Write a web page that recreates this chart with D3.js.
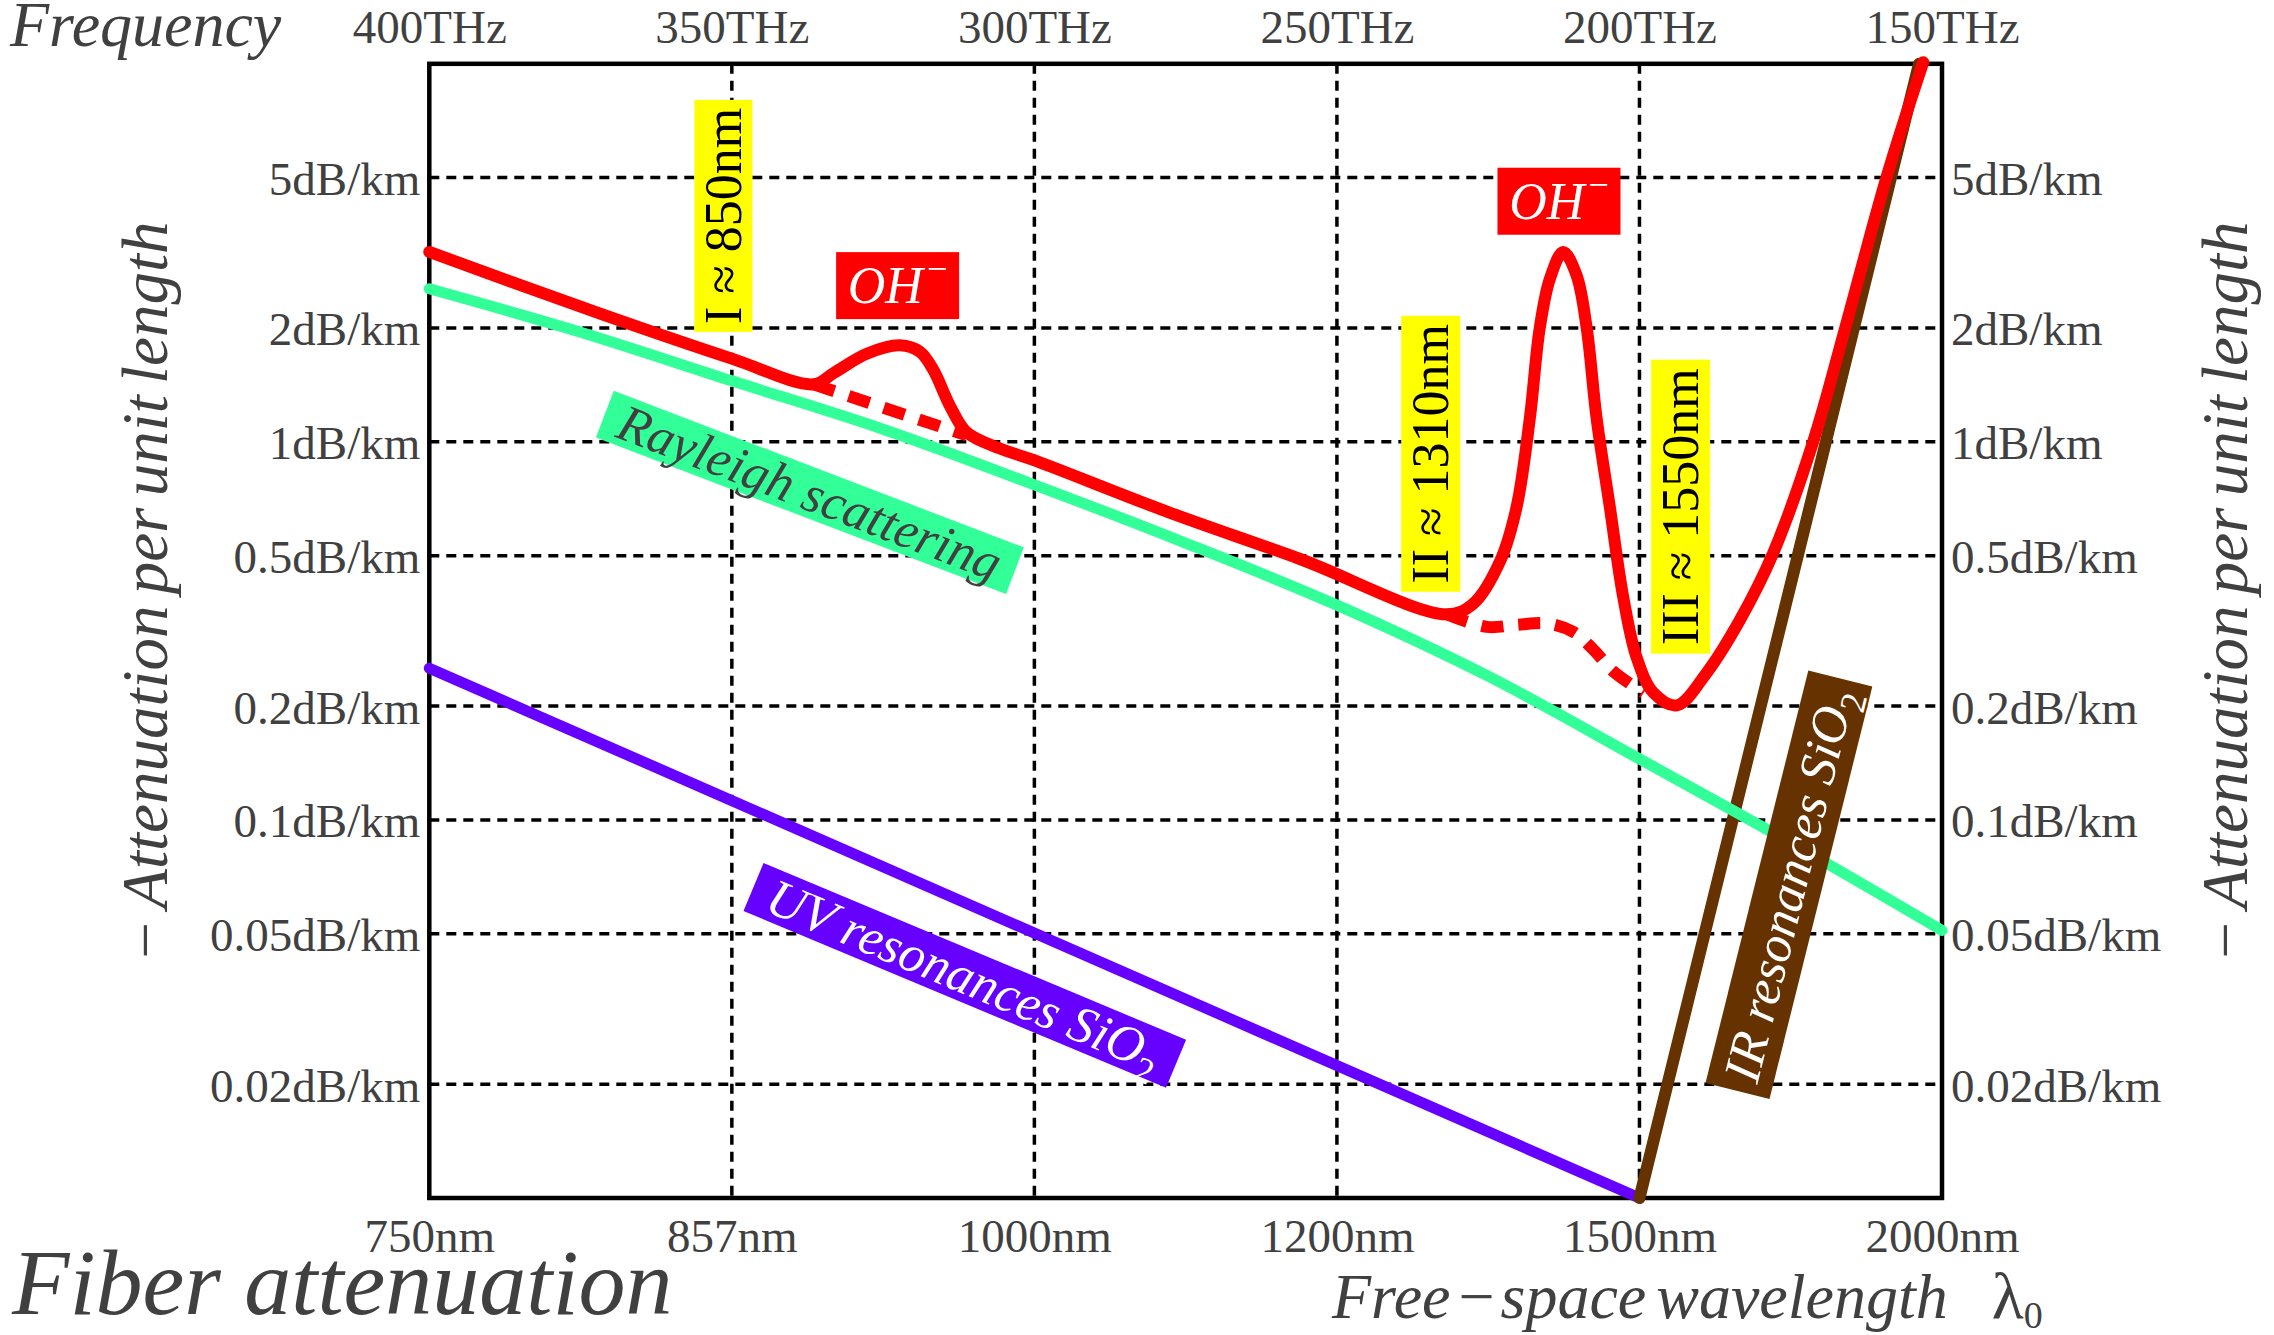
<!DOCTYPE html>
<html>
<head>
<meta charset="utf-8">
<script src="https://cdn.jsdelivr.net/npm/d3@7"></script>
<style>
  body { margin: 0; background: #fff; }
  text { font-family: "Liberation Serif", "Times New Roman", serif; fill: #404040; }
</style>
</head>
<body>
<script>
// Axis ticks (x axis is linear in frequency)
var freqTicks = [400, 350, 300, 250, 200, 150];
var freqLabels = ['400THz', '350THz', '300THz', '250THz', '200THz', '150THz'];
var wavelengthLabels = ['750nm', '857nm', '1000nm', '1200nm', '1500nm', '2000nm'];
var attenTicks = [5, 2, 1, 0.5, 0.2, 0.1, 0.05, 0.02];
var attenLabels = ['5dB/km', '2dB/km', '1dB/km', '0.5dB/km', '0.2dB/km',
  '0.1dB/km', '0.05dB/km', '0.02dB/km'];

// Curves: [frequency THz, attenuation dB/km]
var rayleigh = [[400, 2.54], [375, 1.95], [350, 1.45], [325, 1.08], [300, 0.77],
  [275, 0.54], [250, 0.37], [225, 0.24], [200, 0.145], [175, 0.087], [150, 0.051]];
var uvResonance = [[400, 0.252], [200, 0.01]];
var irResonance = [[200, 0.01], [153.8, 10]];
var totalLoss = [[400, 3.18], [372, 2.19], [350, 1.66], [336.5, 1.42],
  [333.2, 1.52], [327.7, 1.71], [322.2, 1.80], [318.9, 1.73], [316.7, 1.55],
  [313.9, 1.24], [311.2, 1.06], [305.7, 0.96], [300.2, 0.896], [278.1, 0.654],
  [256.1, 0.49], [231.9, 0.35], [227.5, 0.373], [223.0, 0.485], [220.3, 0.673],
  [218.1, 1.16], [216.5, 1.99], [214.8, 2.70], [212.6, 3.18], [210.4, 2.76],
  [208.7, 1.99], [207.1, 1.16], [204.9, 0.673], [202.7, 0.39], [200.5, 0.27],
  [197.7, 0.217], [193.8, 0.201], [188.9, 0.245], [183.4, 0.338], [177.9, 0.508],
  [171.3, 1.0], [166.0, 2.0], [159.1, 5.05], [153.1, 10.1]];
// loss without the OH- peaks (dashed)
var ohBaseline1 = [[336.5, 1.42], [311.2, 1.04]];
var ohBaseline2 = [[231.9, 0.35], [225.2, 0.324], [220.3, 0.328], [215.3, 0.331],
  [210.9, 0.314], [207.6, 0.282], [204.3, 0.247], [199.3, 0.217]];

var width = 2274,
  height = 1335;
// plot frame
var plotLeft = 429.3, plotRight = 1942, plotTop = 63.8, plotBottom = 1198;

var svg = d3.select('body')
  .append('svg')
  .attr('width', width)
  .attr('height', height);

var x = d3.scaleLinear().domain([400, 150]).range([plotLeft, plotRight]);
var y = d3.scaleLog().domain([0.01, 10]).range([plotBottom, plotTop]);

// Grid
var grid = svg.append('g')
  .attr('stroke', '#000')
  .attr('stroke-width', 3.5)
  .attr('stroke-dasharray', '10,7');

grid.selectAll('.vgrid')
  .data(freqTicks.slice(1, -1))
  .enter()
  .append('line')
  .attr('x1', function(d) { return x(d); })
  .attr('x2', function(d) { return x(d); })
  .attr('y1', plotTop)
  .attr('y2', plotBottom);

grid.selectAll('.hgrid')
  .data(attenTicks)
  .enter()
  .append('line')
  .attr('x1', plotLeft)
  .attr('x2', plotRight)
  .attr('y1', function(d) { return y(d); })
  .attr('y2', function(d) { return y(d); });

// Frame
svg.append('rect')
  .attr('x', plotLeft)
  .attr('y', plotTop)
  .attr('width', plotRight - plotLeft)
  .attr('height', plotBottom - plotTop)
  .attr('fill', 'none')
  .attr('stroke', '#000')
  .attr('stroke-width', 4.5);

// Axes
function styleAxis(sel) {
  sel.select('.domain').remove();
  sel.attr('font-family', '"Liberation Serif", serif').attr('font-size', 47);
}

svg.append('g')
  .attr('transform', 'translate(0,' + plotBottom + ')')
  .call(d3.axisBottom(x).tickValues(freqTicks)
    .tickFormat(function(d, i) { return wavelengthLabels[i]; })
    .tickSize(0).tickPadding(54))
  .call(styleAxis)
  .selectAll('text').attr('dy', 0);

svg.append('g')
  .attr('transform', 'translate(0,' + plotTop + ')')
  .call(d3.axisTop(x).tickValues(freqTicks)
    .tickFormat(function(d, i) { return freqLabels[i]; })
    .tickSize(0).tickPadding(21))
  .call(styleAxis);

svg.append('g')
  .attr('transform', 'translate(' + plotLeft + ',0)')
  .call(d3.axisLeft(y).tickValues(attenTicks)
    .tickFormat(function(d, i) { return attenLabels[i]; })
    .tickSize(0).tickPadding(9))
  .call(styleAxis)
  .selectAll('text').attr('dy', '0.36em');

svg.append('g')
  .attr('transform', 'translate(' + plotRight + ',0)')
  .call(d3.axisRight(y).tickValues(attenTicks)
    .tickFormat(function(d, i) { return attenLabels[i]; })
    .tickSize(0).tickPadding(9))
  .call(styleAxis)
  .selectAll('text').attr('dy', '0.36em');

// Curves
var straight = d3.line()
  .x(function(d) { return x(d[0]); })
  .y(function(d) { return y(d[1]); });
var smooth = d3.line()
  .x(function(d) { return x(d[0]); })
  .y(function(d) { return y(d[1]); })
  .curve(d3.curveCatmullRom.alpha(0.5));

function curve(data, gen, color, w, dash) {
  svg.append('path')
    .datum(data)
    .attr('d', gen)
    .attr('fill', 'none')
    .attr('stroke', color)
    .attr('stroke-width', w)
    .attr('stroke-linecap', dash ? 'butt' : 'round')
    .attr('stroke-linejoin', 'round')
    .attr('stroke-dasharray', dash || null);
}

curve(uvResonance, straight, '#6600ff', 11);
curve(irResonance, straight, '#663300', 12);
curve(rayleigh, smooth, '#33ff99', 11);
curve(ohBaseline1, straight, '#ff0000', 12, '22,15');
curve(ohBaseline2, smooth, '#ff0000', 12, '22,15');
curve(totalLoss, smooth, '#ff0000', 12);

// Boxed labels, placed in data coordinates
var labels = [
  { parts: [['I ≈ 850nm']], f: 351.4, a: 3.96, angle: -90, len: 232, thick: 58,
    fill: '#ffff00', color: '#000', italic: false },
  { parts: [['II ≈ 1310nm']], f: 234.5, a: 0.93, angle: -90, len: 276, thick: 59,
    fill: '#ffff00', color: '#000', italic: false },
  { parts: [['III ≈ 1550nm']], f: 193.2, a: 0.674, angle: -90, len: 294, thick: 59,
    fill: '#ffff00', color: '#000', italic: false },
  { parts: [['OH'], ['−', 'sup']], f: 322.6, a: 2.59, angle: 0, len: 123, thick: 67,
    fill: '#ff0000', color: '#fff', italic: true },
  { parts: [['OH'], ['−', 'sup']], f: 213.3, a: 4.33, angle: 0, len: 123, thick: 67,
    fill: '#ff0000', color: '#fff', italic: true },
  { parts: [['Rayleigh scattering']], f: 337.1, a: 0.735, angle: 20.9, len: 439, thick: 50,
    fill: '#33ff99', color: '#404040', italic: true },
  { parts: [['UV resonances SiO'], ['2', 'sub']], f: 311.5, a: 0.0388, angle: 22.7, len: 458, thick: 52,
    fill: '#6600ff', color: '#fff', italic: true },
  { parts: [['IR resonances SiO'], ['2', 'sub']], f: 175.3, a: 0.0674, angle: -76, len: 425, thick: 66,
    fill: '#663300', color: '#fff', italic: true }
];

labels.forEach(function(o) {
  var size = 52;
  var gl = svg.append('g')
    .attr('transform', 'translate(' + x(o.f) + ',' + y(o.a) + ') rotate(' + o.angle + ')');
  gl.append('rect')
    .attr('x', -o.len / 2)
    .attr('y', -o.thick / 2)
    .attr('width', o.len)
    .attr('height', o.thick)
    .attr('fill', o.fill);
  var t = gl.append('text')
    .attr('text-anchor', 'middle')
    .attr('y', size * 0.34)
    .attr('font-size', size)
    .attr('font-style', o.italic ? 'italic' : 'normal')
    .style('fill', o.color);
  o.parts.forEach(function(p) {
    var ts = t.append('tspan').text(p[0]);
    if (p[1] == 'sup') {
      ts.attr('font-size', size * 0.7).attr('dy', -size * 0.42).attr('dx', 4).attr('font-style', 'normal');
    } else if (p[1] == 'sub') {
      ts.attr('font-size', size * 0.7).attr('dy', size * 0.25).attr('font-style', 'normal');
    }
  });
});

// Titles
svg.append('text')
  .attr('x', 10).attr('y', 46)
  .attr('font-size', 64).attr('font-style', 'italic')
  .text('Frequency');

svg.append('text')
  .attr('x', 12).attr('y', 1314)
  .attr('font-size', 94).attr('font-style', 'italic')
  .text('Fiber attenuation');

var xt = svg.append('text')
  .attr('x', 1332).attr('y', 1318)
  .attr('font-size', 64).attr('font-style', 'italic');
xt.append('tspan').text('Free');
xt.append('tspan').attr('dx', 8).attr('font-style', 'normal').text('−');
xt.append('tspan').attr('dx', 6).text('space');
xt.append('tspan').attr('dx', 10).text('wavelength');
xt.append('tspan').attr('dx', 44).attr('font-size', 66).attr('font-style', 'normal').text('λ');
xt.append('tspan').attr('font-size', 38).attr('dy', 10).attr('font-style', 'normal').text('0');

function yTitle(xpos) {
  var t = svg.append('text')
    .attr('transform', 'translate(' + xpos + ',590) rotate(-90)')
    .attr('text-anchor', 'middle')
    .attr('font-size', 65)
    .attr('font-style', 'italic')
    .style('word-spacing', '-5px');
  t.append('tspan').attr('font-style', 'normal').text('−');
  t.append('tspan').attr('dx', 13).text('Attenuation per unit length');
}
yTitle(167);
yTitle(2247);
</script>
</body>
</html>
